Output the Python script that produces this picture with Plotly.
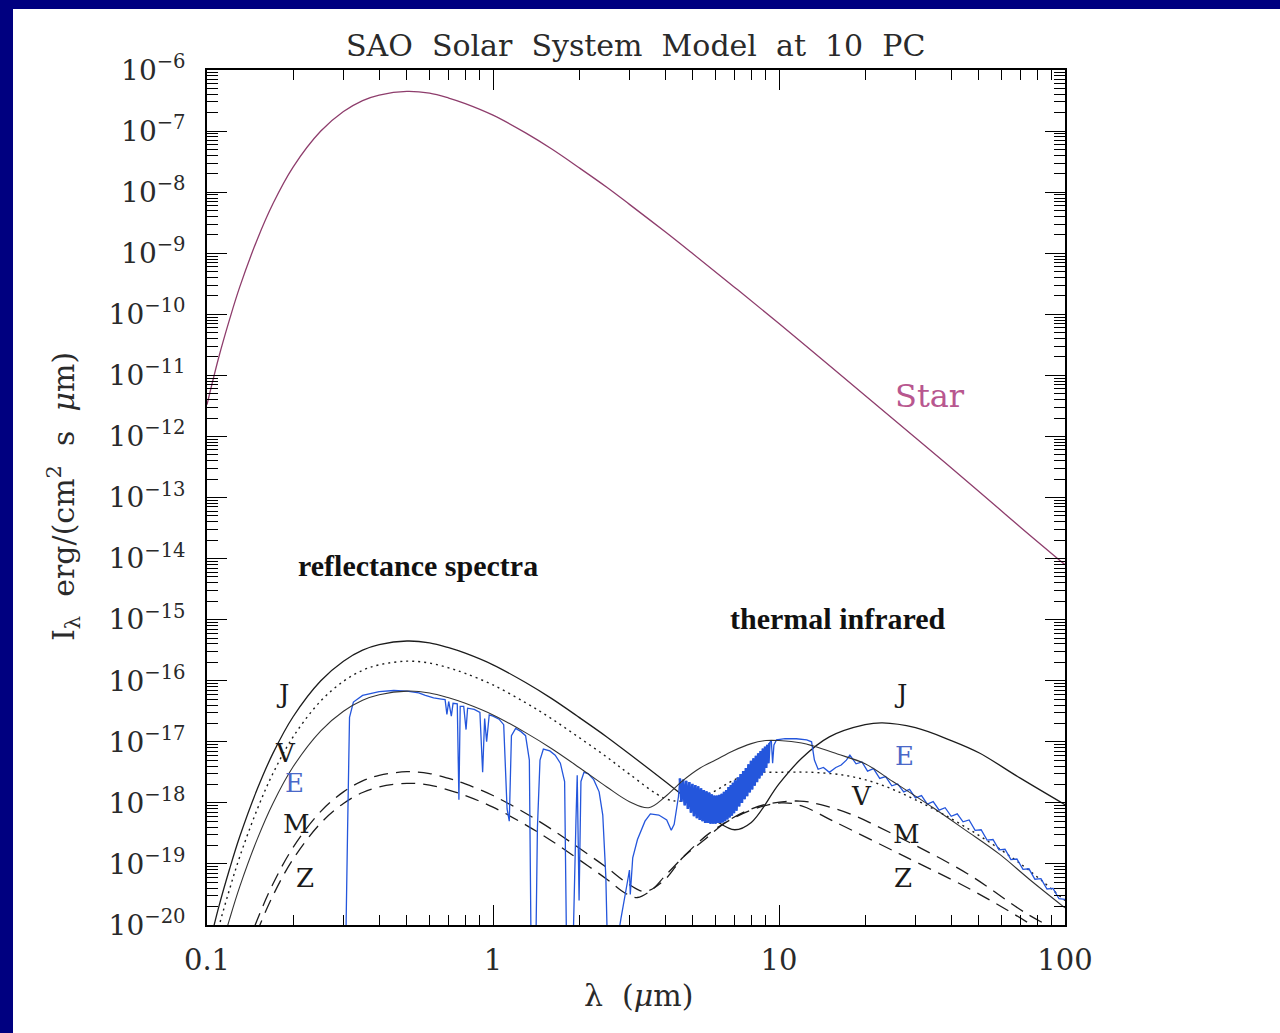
import math
import plotly.graph_objects as go

# ---------------- data (log10 of I_lambda) ----------------
star_wl = [0.1, 0.11, 0.12, 0.13, 0.15, 0.17, 0.2, 0.25, 0.3, 0.35, 0.4, 0.5, 0.6, 0.7, 0.8, 1.0,
           1.3, 1.6, 2, 2.5, 3, 4, 5, 7, 10, 15, 20, 30, 50, 70, 100]
star_log = [-11.48, -10.70, -10.08, -9.56, -8.77, -8.19, -7.59, -7.00, -6.68, -6.50, -6.41, -6.35,
            -6.38, -6.46, -6.55, -6.74, -7.03, -7.29, -7.60, -7.92, -8.20, -8.65, -9.01, -9.56,
            -10.15, -10.84, -11.33, -12.02, -12.90, -13.49, -14.10]

j_wl = [0.1, 0.11, 0.12, 0.13, 0.15, 0.17, 0.2, 0.25, 0.3, 0.35, 0.4, 0.5, 0.6, 0.7, 0.8, 1.0, 1.3,
        1.6, 2, 2.5, 3, 4, 5, 6, 7, 8, 10, 12, 15, 20, 23, 30, 40, 50, 70, 100]
j_log = [-20.48, -19.70, -19.08, -18.56, -17.77, -17.19, -16.59, -16.00, -15.68, -15.50, -15.41,
         -15.35, -15.38, -15.46, -15.55, -15.74, -16.03, -16.29, -16.60, -16.92, -17.20, -17.65,
         -18.01, -18.29, -18.44, -18.32, -17.69, -17.27, -16.92, -16.72, -16.69, -16.77, -16.98,
         -17.18, -17.60, -18.03]

v_wl = [0.1, 0.11, 0.12, 0.13, 0.15, 0.17, 0.2, 0.25, 0.3, 0.35, 0.4, 0.5, 0.6, 0.7, 0.8, 1.0, 1.3,
        1.6, 2, 2.5, 3, 4, 4.6, 5.7, 7, 8.1, 10, 13, 17, 22, 30, 45, 70, 100]
v_log = [-20.81, -20.03, -19.41, -18.89, -18.10, -17.52, -16.92, -16.33, -16.01, -15.83, -15.74,
         -15.68, -15.71, -15.79, -15.88, -16.07, -16.36, -16.62, -16.93, -17.25, -17.53, -17.93,
         -17.97, -17.85, -17.62, -17.51, -17.50, -17.50, -17.55, -17.68, -17.95, -18.40, -19.00,
         -19.60]

e_wl = [0.1, 0.11, 0.12, 0.13, 0.15, 0.17, 0.2, 0.25, 0.3, 0.35, 0.4, 0.5, 0.6, 0.7, 0.8, 1.0, 1.3,
        1.6, 2, 2.5, 3, 3.5, 4, 4.6, 5.3, 6, 6.9, 8, 9, 10, 12, 13.2, 16, 20, 25, 34.6, 45, 59, 75, 100]
e_log = [-21.30, -20.52, -19.90, -19.38, -18.59, -18.01, -17.41, -16.82, -16.50, -16.32, -16.23,
         -16.17, -16.20, -16.28, -16.37, -16.56, -16.85, -17.11, -17.42, -17.74, -17.98, -18.08,
         -17.90, -17.64, -17.43, -17.30, -17.15, -17.03, -16.98, -16.98, -17.02, -17.07, -17.20,
         -17.36, -17.65, -18.08, -18.45, -18.84, -19.25, -19.72]

m_wl = [0.13, 0.15, 0.17, 0.2, 0.25, 0.3, 0.35, 0.4, 0.5, 0.6, 0.7, 0.8, 1.0, 1.3, 1.6, 2, 2.5, 3,
        3.4, 4, 4.6, 5.5, 6.6, 8, 9.1, 11.8, 14, 17.7, 26.5, 45.6, 73.8, 100]
m_log = [-20.70, -19.91, -19.33, -18.73, -18.14, -17.82, -17.64, -17.55, -17.49, -17.52, -17.60,
         -17.69, -17.88, -18.17, -18.43, -18.74, -19.06, -19.34, -19.45, -19.25, -18.90, -18.60,
         -18.30, -18.10, -18.02, -17.97, -18.03, -18.18, -18.57, -19.16, -19.82, -20.15]

z_wl = [0.14, 0.15, 0.17, 0.2, 0.25, 0.3, 0.35, 0.4, 0.5, 0.6, 0.7, 0.8, 1.0, 1.3, 1.6, 2, 2.5, 2.9,
        3.2, 3.6, 4.06, 5.7, 7.87, 10.2, 12, 15.5, 26.5, 45.6, 66.2, 100]
z_log = [-20.47, -20.10, -19.52, -18.92, -18.33, -18.01, -17.83, -17.74, -17.68, -17.71, -17.79,
         -17.88, -18.07, -18.36, -18.62, -18.93, -19.25, -19.48, -19.55, -19.42, -19.16, -18.50,
         -18.13, -18.00, -18.05, -18.30, -18.84, -19.39, -19.82, -20.35]

# Earth observed spectrum (blue): reflected part, 4.5-9 um band, IR part, long-wave tail
eb_refl_wl = [0.305, 0.31, 0.315, 0.325, 0.35, 0.40, 0.45, 0.50, 0.55, 0.58, 0.62, 0.66, 0.68, 0.69,
              0.70, 0.715, 0.725, 0.75, 0.76, 0.768, 0.79, 0.805, 0.815, 0.86, 0.90, 0.92, 0.935,
              0.95, 0.97, 1.0, 1.05, 1.09, 1.12, 1.14, 1.16, 1.2, 1.25, 1.3, 1.34, 1.36, 1.41, 1.43,
              1.46, 1.5, 1.58, 1.65, 1.72, 1.78, 1.81, 1.90, 1.95, 1.97, 2.0, 2.03, 2.08, 2.15, 2.25,
              2.35, 2.42, 2.48, 2.52, 2.65, 2.8, 2.95, 3.0, 3.02, 3.08, 3.2, 3.4, 3.55, 3.8, 4.05,
              4.2, 4.3, 4.45]
eb_refl_log = [-20.6, -18.5, -16.6, -16.35, -16.24, -16.18, -16.16, -16.17, -16.20, -16.24, -16.28,
               -16.30, -16.31, -16.55, -16.34, -16.58, -16.37, -16.38, -17.95, -16.42, -16.42, -16.80,
               -16.45, -16.47, -16.52, -17.50, -16.62, -17.00, -16.56, -16.58, -16.63, -16.72, -18.10,
               -18.30, -16.90, -16.78, -16.83, -16.90, -17.30, -20.6, -20.6, -18.40, -17.30, -17.12,
               -17.15, -17.22, -17.35, -17.65, -20.6, -20.6, -18.30, -17.55, -19.60, -17.65, -17.50,
               -17.52, -17.62, -17.82, -18.20, -19.20, -20.6, -20.6, -19.90, -19.30, -19.10, -19.50,
               -18.90, -18.60, -18.30, -18.18, -18.20, -18.28, -18.45, -18.35, -17.90]

eb_band_wl = [4.50, 4.56, 4.62, 4.68, 4.74, 4.80, 4.86, 4.92, 4.98, 5.04,
              5.10, 5.16, 5.22, 5.28, 5.34, 5.40, 5.46, 5.52, 5.58, 5.64,
              5.70, 5.76, 5.82, 5.88, 5.94, 6.00, 6.06, 6.12, 6.18, 6.24,
              6.30, 6.36, 6.42, 6.48, 6.54, 6.60, 6.66, 6.72, 6.78, 6.84,
              6.90, 6.96, 7.02, 7.10, 7.18, 7.26, 7.34, 7.42, 7.50, 7.58,
              7.66, 7.74, 7.82, 7.90, 7.98, 8.06, 8.14, 8.22, 8.30, 8.38,
              8.46, 8.54, 8.62, 8.70, 8.78, 8.86, 8.94, 9.02, 9.10, 9.18,
              9.26]
eb_band_log = [-17.60, -17.98, -17.62, -18.04, -17.64, -18.10, -17.66, -18.16, -17.69, -18.22,
               -17.71, -18.25, -17.73, -18.28, -17.76, -18.30, -17.79, -18.33, -17.81, -18.33,
               -17.83, -18.34, -17.86, -18.34, -17.88, -18.34, -17.88, -18.33, -17.87, -18.33,
               -17.85, -18.32, -17.82, -18.30, -17.79, -18.27, -17.74, -18.24, -17.71, -18.21,
               -17.67, -18.17, -17.63, -18.13, -17.58, -18.06, -17.53, -18.00, -17.48, -17.94,
               -17.43, -17.89, -17.37, -17.83, -17.31, -17.78, -17.27, -17.72, -17.23, -17.66,
               -17.19, -17.60, -17.15, -17.55, -17.11, -17.50, -17.08, -17.43, -17.05, -17.35,
               -17.02]

eb_ir_wl = [9.4, 9.5, 9.6, 9.8, 10.5, 11.5, 12.5, 13.0, 13.3, 13.7, 14.3, 15.0, 15.8, 16.5, 17.2]
eb_ir_log = [-16.98, -17.35, -17.05, -16.97, -16.95, -16.95, -16.97, -17.00, -17.30, -17.45, -17.42,
             -17.50, -17.42, -17.38, -17.30]

eb_tail_wl = [17.7, 18.6, 19.5, 20.4, 21.4, 22.5, 23.6, 24.8, 26.0, 27.3, 28.6, 30.0, 31.5, 33.0,
              34.6, 36.3, 38.1, 40.0, 42.0, 44.0, 46.2, 48.5, 50.9, 53.4, 56.0, 58.8, 61.7, 64.7,
              67.9, 71.3, 74.8, 78.5, 82.4, 86.5, 90.8, 95.3, 100]
eb_tail_log = [-17.22, -17.36, -17.33, -17.48, -17.44, -17.60, -17.57, -17.72, -17.69, -17.82, -17.78,
               -17.92, -17.88, -18.02, -17.98, -18.12, -18.08, -18.22, -18.18, -18.31, -18.28, -18.45,
               -18.44, -18.61, -18.60, -18.77, -18.76, -18.93, -18.92, -19.09, -19.08, -19.25, -19.24,
               -19.41, -19.40, -19.57, -19.58]

x_tick_vals = [0.1, 1, 10, 100]
x_tick_text = ["0.1", "1", "10", "100"]
y_exponents = list(range(-20, -5))

# curve labels: (text, wavelength, log10 I, colour)
curve_labels = [
    ("J", 0.184, -16.21, "#1a1a1a"), ("V", 0.1875, -17.18, "#1a1a1a"), ("E", 0.203, -17.67, "#4a68c8"),
    ("M", 0.206, -18.34, "#1a1a1a"), ("Z", 0.220, -19.23, "#1a1a1a"),
    ("J", 26.5, -16.21, "#1a1a1a"), ("E", 27.5, -17.23, "#4a68c8"), ("V", 19.5, -17.89, "#1a1a1a"),
    ("M", 28.0, -18.51, "#1a1a1a"), ("Z", 27.2, -19.23, "#1a1a1a"),
]


def lin(logs):
    return [10 ** v for v in logs]


fig = go.Figure()

BLACK = "#1c1c1c"
BLUE = "#2456dc"
fig.add_trace(go.Scatter(x=star_wl, y=lin(star_log), mode="lines",
                         line=dict(color="#8e3d6c", width=1.3, shape="spline")))
fig.add_trace(go.Scatter(x=j_wl, y=lin(j_log), mode="lines",
                         line=dict(color=BLACK, width=1.3, shape="spline")))
fig.add_trace(go.Scatter(x=v_wl, y=lin(v_log), mode="lines",
                         line=dict(color=BLACK, width=1.4, dash="2px,4px", shape="spline")))
fig.add_trace(go.Scatter(x=m_wl, y=lin(m_log), mode="lines",
                         line=dict(color=BLACK, width=1.3, dash="14px,8px", shape="spline")))
fig.add_trace(go.Scatter(x=z_wl, y=lin(z_log), mode="lines",
                         line=dict(color=BLACK, width=1.3, dash="14px,8px", shape="spline")))
eb_wl = eb_refl_wl + eb_band_wl + eb_ir_wl + eb_tail_wl
eb_log = eb_refl_log + eb_band_log + eb_ir_log + eb_tail_log
fig.add_trace(go.Scatter(x=eb_wl, y=lin(eb_log), mode="lines",
                         line=dict(color=BLUE, width=1.3, simplify=False)))
fig.add_trace(go.Scatter(x=eb_band_wl, y=lin(eb_band_log), mode="lines",
                         line=dict(color=BLUE, width=2.6, simplify=False)))
fig.add_trace(go.Scatter(x=e_wl, y=lin(e_log), mode="lines",
                         line=dict(color="#333333", width=1.1, shape="spline")))

minor_x = [k * 10.0 ** e for e in range(-1, 2) for k in range(2, 10)]
minor_y = [k * 10.0 ** e for e in range(-20, -6) for k in range(2, 10)]

FONT = "DejaVu Serif"
TXT = "#2a2a2a"
NB = "\u00a0"

fig.update_xaxes(type="log", range=[-1, 2], tickvals=x_tick_vals, ticktext=x_tick_text,
                 ticks="inside", ticklen=20, tickwidth=1.3, tickcolor="black",
                 showline=True, linecolor="black", linewidth=1.6, mirror="allticks",
                 showgrid=False, zeroline=False, ticklabelstandoff=8,
                 tickfont=dict(family=FONT, size=29, color=TXT),
                 minor=dict(tickvals=minor_x, ticks="inside", ticklen=10, tickwidth=1.1,
                            tickcolor="black", showgrid=False))
fig.update_yaxes(type="log", range=[-20, -6], tickvals=[10.0 ** e for e in y_exponents],
                 ticktext=["10<sup>−%d</sup>" % (-e) for e in y_exponents],
                 ticks="inside", ticklen=20, tickwidth=1.3, tickcolor="black",
                 showline=True, linecolor="black", linewidth=1.6, mirror="allticks",
                 showgrid=False, zeroline=False, ticklabelstandoff=14,
                 tickfont=dict(family=FONT, size=28, color=TXT),
                 minor=dict(tickvals=minor_y, ticks="inside", ticklen=11, tickwidth=1.1,
                            tickcolor="black", showgrid=False))

L, R, T, B = 207, 1065, 70, 925
W, H = 1280, 1033


def px(x):
    return (x - L) / (R - L)


def py(y):
    return (B - y) / (B - T)


title_text = (" " + NB).join(["SAO", "Solar", "System", "Model", "at", "10", "PC"])
ytitle_text = "I<sub>λ</sub>" + NB + " erg/(cm<sup>2</sup>" + NB + " s" + NB + " <i>μ</i>m)"
annotations = [
    dict(text=title_text, x=px(635), y=py(45), xref="paper", yref="paper",
         showarrow=False, font=dict(family=FONT, size=30, color=TXT), xanchor="center", yanchor="middle"),
    dict(text="λ" + NB + " (<i>μ</i>m)", x=px(638), y=py(995), xref="paper", yref="paper",
         showarrow=False, font=dict(family=FONT, size=30, color=TXT), xanchor="center", yanchor="middle"),
    dict(text=ytitle_text, x=px(64), y=py(497), xref="paper",
         yref="paper", textangle=-90, showarrow=False, font=dict(family=FONT, size=30, color=TXT),
         xanchor="center", yanchor="middle"),
    dict(text="Star", x=math.log10(33.7), y=-11.33, xref="x", yref="y", showarrow=False,
         font=dict(family=FONT, size=32, color="#b8578f"), xanchor="center", yanchor="middle"),
    dict(text="<b>reflectance spectra</b>", x=math.log10(0.547), y=-14.11, xref="x", yref="y",
         showarrow=False, font=dict(family="Liberation Serif", size=30, color="#111"),
         xanchor="center", yanchor="middle"),
    dict(text="<b>thermal infrared</b>", x=math.log10(16.1), y=-14.98, xref="x", yref="y",
         showarrow=False, font=dict(family="Liberation Serif", size=30, color="#111"),
         xanchor="center", yanchor="middle"),
]
for txt, wl, lg, col in curve_labels:
    annotations.append(dict(text=txt, x=math.log10(wl), y=lg, xref="x", yref="y", showarrow=False,
                            font=dict(family=FONT, size=26, color=col), xanchor="center",
                            yanchor="middle"))

fig.update_layout(
    width=W, height=H, autosize=False,
    margin=dict(l=L, r=W - R, t=T, b=H - B, pad=0),
    paper_bgcolor="#000080", plot_bgcolor="white", showlegend=False,
    shapes=[dict(type="rect", xref="paper", yref="paper", x0=px(13), x1=px(1300), y0=py(1050),
                 y1=py(9), fillcolor="white", line=dict(width=0), layer="below")],
    annotations=annotations,
)

fig.write_html("out.html")
